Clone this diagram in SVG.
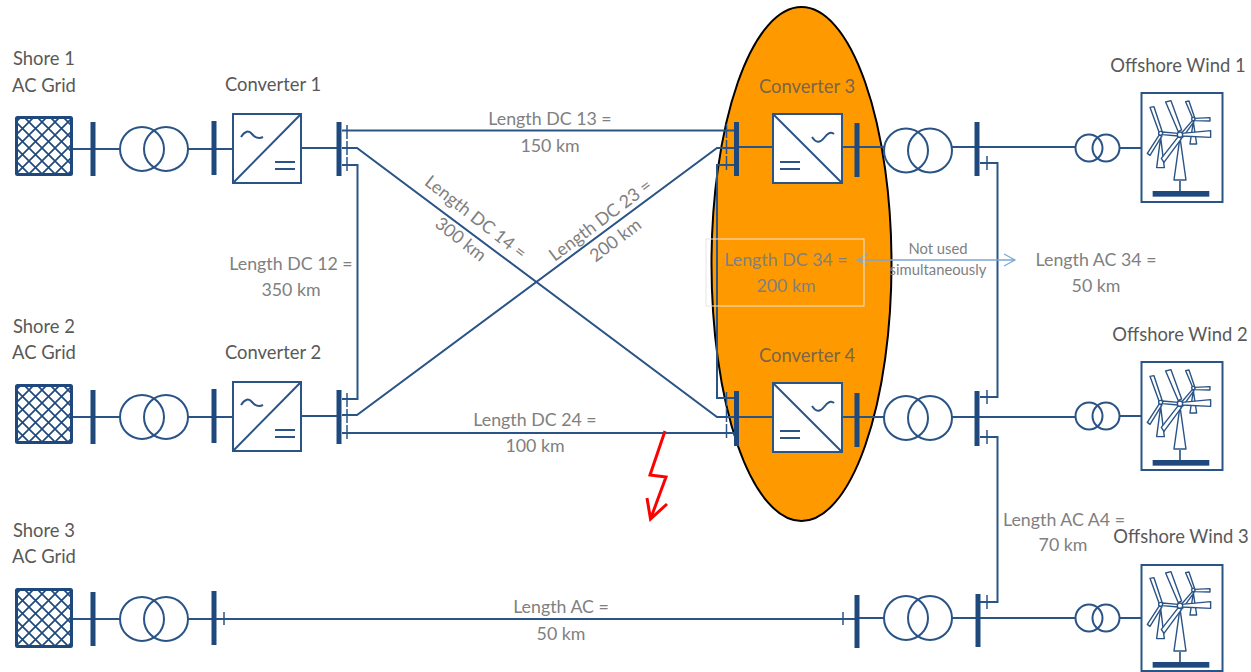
<svg xmlns="http://www.w3.org/2000/svg" width="1251" height="672" viewBox="0 0 1251 672">
<style>
text{font-family:Lato,"Liberation Sans",sans-serif;font-size:17.800px;text-anchor:middle}
.t{fill:#595959;font-size:18.400px}
.l{fill:#808080}
.w{fill:none;stroke:#2a5486;stroke-width:2}
.b{stroke:#1f497d;stroke-width:5;fill:none}
.f{fill:#fff;stroke:#2a5486;stroke-width:2}
.k{fill:none;stroke:#2a5486;stroke-width:1.5}
</style>
<defs>
<pattern id="hatch" width="13" height="13" patternUnits="userSpaceOnUse" x="3" y="5">
<rect width="13" height="13" fill="#fff"/>
<path d="M0 0L13 13M13 0L0 13" stroke="#1f497d" stroke-width="1.7"/>
</pattern>
<marker id="open" markerWidth="14" markerHeight="14" refX="12" refY="7" orient="auto-start-reverse" markerUnits="userSpaceOnUse">
<path d="M1 1L12 7L1 13" fill="none" stroke="#7ba6d4" stroke-width="1.2"/>
</marker>
<g id="grid"><rect x="16.500" y="117.500" width="55" height="57" rx="1" fill="url(#hatch)" stroke="#1f497d" stroke-width="3"/></g>
<g id="tx">
<circle cx="142" cy="0" r="22" fill="none" stroke="#2a5486" stroke-width="2"/>
<circle cx="166" cy="0" r="22" fill="none" stroke="#2a5486" stroke-width="2"/>
</g>
<g id="small">
<circle cx="1089" cy="0" r="13.500" fill="none" stroke="#2a5486" stroke-width="2"/>
<circle cx="1106" cy="0" r="13.500" fill="none" stroke="#2a5486" stroke-width="2"/>
</g>
<g id="convL">
<rect x="233" y="114" width="68" height="69" class="f"/>
<path d="M233 183L301 114" class="w"/>
<path d="M241 137Q247 128 252 134T263 137" class="w"/>
<path d="M275 162H295M275 169H295" class="w"/>
</g>
<g id="convR">
<rect x="773" y="114" width="69" height="69" class="f"/>
<path d="M773 114L842 183" class="w"/>
<path d="M812 137Q818 146 824 138T834 134" class="w"/>
<path d="M780 162H800M780 169H800" class="w"/>
</g>
<g id="turbine" transform="translate(960 50) scale(.3333)">
<rect x="578" y="423" width="170" height="17" fill="#1f497d"/>
<path d="M660 393V423" stroke="#2a5486" stroke-width="5"/>
<g fill="#fff" stroke="#2a5486" stroke-width="4.200" stroke-linejoin="round">
<path d="M602 262L590 353H613Z"/>
<path d="M700 215L690 282H710Z"/>
<path d="M698 205L677 155L687 153L704 203Z"/>
<path d="M704 205L750 203V213L704 212Z"/>
<path d="M697 212L660 255L668 262L702 215Z"/>
<path d="M597 246L570 172L582 170L607 246Z"/>
<path d="M598 255L562 310L570 316L606 258Z"/>
<path d="M607 246L655 250L655 258L607 254Z"/>
<path d="M660 262L642 390H678Z"/>
<path d="M655 245L617 156L633 152L665 240Z"/>
<path d="M665 250L752 242V262L665 258Z"/>
<path d="M655 260L604 325L612 337L665 265Z"/>
<circle cx="602" cy="250" r="6"/>
<circle cx="700" cy="207" r="5"/>
<circle cx="660" cy="254" r="8"/>
</g>
</g>
</defs>

<ellipse id="highlight" cx="801.500" cy="264" rx="90" ry="257" fill="#ff9900" stroke="#000" stroke-width="2"/>

<g id="connectors">
<path class="w" d="M72 149H120M188 149H233M301 148H339"/>
<path class="w" d="M72 417H120M188 417H233M301 416H339"/>
<path class="w" d="M72 619H120M188 619H857"/>
<path class="w" d="M342 130.500H736"/>
<path class="w" d="M342 148H357L717 417H736"/>
<path class="w" d="M342 165H357.500V399H342"/>
<path class="w" d="M342 415H357L717 148H736"/>
<path class="w" d="M342 433H736"/>
<path class="w" d="M736 165H717V398H736"/>
<path class="w" d="M736 147H773M842 147H884M952 147H1075.500M1119.500 148H1141"/>
<path class="w" d="M736 417H773M842 417H884M952 417H1075.500M1119.500 416H1141"/>
<path class="w" d="M857 618H884M952 618H1075.500M1119.500 618H1141"/>
<path class="w" d="M980 163H997.500V397H980"/>
<path class="w" d="M980 437H997.500V602H980"/>
<path class="k" d="M987 156V170M987 390V404M987 430V444M987 595V609M224 612V625M843 612V625"/>
<path class="k" d="M347 125V173M347 393V441M726.500 124V172M726.500 392V440" stroke-dasharray="14 2"/>
<path d="M857 260H1015" fill="none" stroke="#7ba6d4" stroke-width="1.500" marker-start="url(#open)" marker-end="url(#open)"/>
<path d="M665 431L650 475L666 477L650.500 519M647 498L650.500 519L667 504" fill="none" stroke="#ff0000" stroke-width="3"/>
</g>

<g id="shore1"><use href="#grid"/><path class="b" d="M93 122V176M214 121V175"/><use href="#tx" y="149"/><text class="t" x="44" y="65">Shore 1</text><text class="t" x="44" y="92">AC Grid</text></g>
<g id="shore2"><use href="#grid" y="268"/><path class="b" d="M93 390V444M214 389V443"/><use href="#tx" y="417"/><text class="t" x="44" y="333">Shore 2</text><text class="t" x="44" y="359">AC Grid</text></g>
<g id="shore3"><use href="#grid" y="472"/><path class="b" d="M93 592V646M214 591V645"/><use href="#tx" y="619"/><text class="t" x="44" y="537">Shore 3</text><text class="t" x="44" y="563">AC Grid</text></g>

<g id="converter1"><use href="#convL"/><path class="b" d="M339 122V176"/><text class="t" x="273" y="91">Converter 1</text></g>
<g id="converter2"><use href="#convL" y="268"/><path class="b" d="M339 390V444"/><text class="t" x="273" y="359">Converter 2</text></g>
<g id="converter3"><use href="#convR"/><path class="b" d="M736.500 122V176M857 123V177"/><use href="#tx" x="764" y="150.500"/><text class="t" x="807" y="93" opacity=".8">Converter 3</text></g>
<g id="converter4"><use href="#convR" y="269"/><path class="b" d="M736.500 391V446M857 393V447"/><use href="#tx" x="764" y="418"/><text class="t" x="807" y="362" opacity=".8">Converter 4</text></g>
<g id="ac3"><path class="b" d="M857 595V648"/><use href="#tx" x="764" y="618"/></g>

<g id="wind1"><path class="b" d="M977 122V176"/><use href="#small" y="148"/><rect x="1141.500" y="93" width="81" height="109" class="f"/><use href="#turbine"/><text class="t" x="1178" y="72">Offshore Wind 1</text></g>
<g id="wind2"><path class="b" d="M977 391V446"/><use href="#small" y="416"/><rect x="1141.500" y="362" width="81" height="108" class="f"/><use href="#turbine" y="269"/><text class="t" x="1180" y="341">Offshore Wind 2</text></g>
<g id="wind3"><path class="b" d="M978 594V647"/><use href="#small" y="618"/><rect x="1141.500" y="565" width="81" height="106" class="f"/><use href="#turbine" y="471"/><text class="t" x="1181" y="543">Offshore Wind 3</text></g>

<g id="labels">
<text class="l" x="550" y="125">Length DC 13 =</text><text class="l" x="550" y="152">150 km</text>
<text class="l" x="291" y="270">Length DC 12 =</text><text class="l" x="291" y="296">350 km</text>
<text class="l" transform="translate(472 222) rotate(38)">Length DC 14 =</text><text class="l" transform="translate(457 244) rotate(38)">300 km</text>
<text class="l" transform="translate(604 225) rotate(-37)">Length DC 23 =</text><text class="l" transform="translate(619 245) rotate(-37)">200 km</text>
<text class="l" x="535" y="426">Length DC 24 =</text><text class="l" x="535" y="452">100 km</text>
<text class="l" x="561" y="613">Length AC =</text><text class="l" x="561" y="640">50 km</text>
<rect x="706" y="239" width="158" height="67" fill="none" stroke="#e6e6e6" stroke-width="1"/>
<text class="l" x="786" y="266">Length DC 34  =</text><text class="l" x="786" y="292">200 km</text>
<text class="l" x="938" y="254" style="font-size:14.8px">Not used</text><text class="l" x="938" y="275" style="font-size:14.8px">simultaneously</text>
<text class="l" x="1096" y="266">Length AC 34  =</text><text class="l" x="1096" y="292">50 km</text>
<text class="l" x="1064" y="526">Length AC A4 =</text><text class="l" x="1063" y="551">70 km</text>
</g>
</svg>
